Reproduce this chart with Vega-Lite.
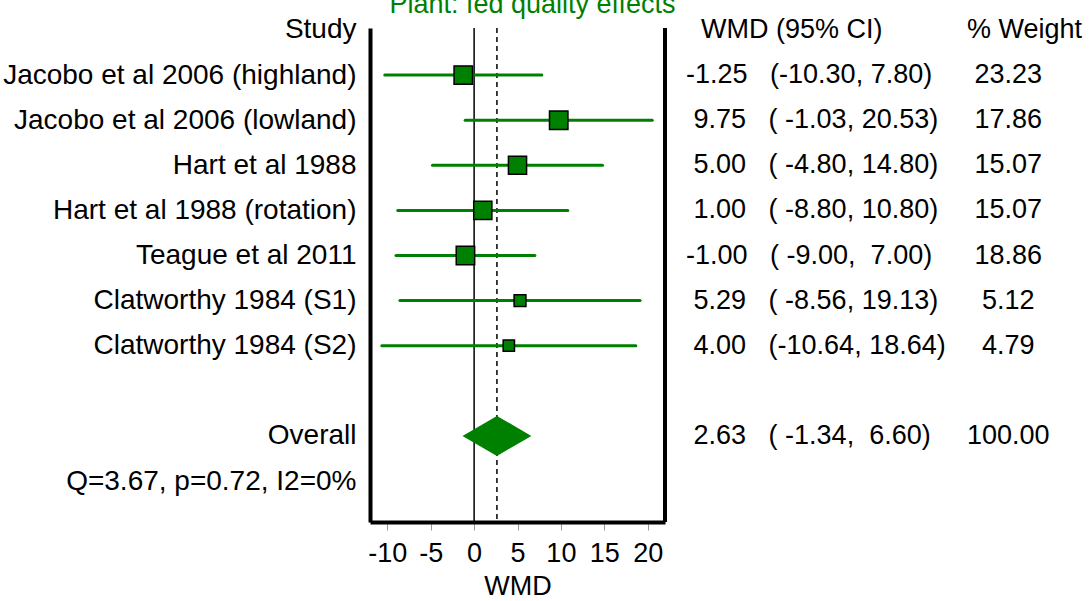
{
  "$schema": "https://vega.github.io/schema/vega-lite/v6.json",
  "width": 295,
  "height": 494,
  "autosize": {"type": "none"},
  "padding": {"left": 370, "top": 28, "right": 424, "bottom": 79},
  "background": "white",
  "config": {
    "view": {"stroke": null},
    "font": "Liberation Sans",
    "text": {"font": "Liberation Sans", "fontSize": 27, "color": "black"}
  },
  "title": {
    "text": "Plant: fed quality effects",
    "color": "#008000",
    "fontSize": 27,
    "font": "Liberation Sans",
    "fontWeight": "normal",
    "anchor": "middle",
    "baseline": "alphabetic",
    "offset": 4,
    "dy": 28,
    "dx": 15
  },
  "data": {
    "values": [
      {"study": "Study", "ci": "\u200b\u00a0\u00a0\u00a0WMD (95% CI)", "wt": "% Weight", "type": "header"},
      {"study": "Jacobo et al 2006 (highland)", "est": -1.25, "lo": -10.30, "hi": 7.80, "w": 23.23, "ci": "\u200b\u00a0-1.25\u00a0\u00a0\u00a0(-10.30,\u00a07.80)", "wt": "\u200b\u00a023.23", "type": "study"},
      {"study": "Jacobo et al 2006 (lowland)", "est": 9.75, "lo": -1.03, "hi": 20.53, "w": 17.86, "ci": "\u200b\u00a0\u00a09.75\u00a0\u00a0\u00a0(\u00a0-1.03,\u00a020.53)", "wt": "\u200b\u00a017.86", "type": "study"},
      {"study": "Hart et al 1988", "est": 5.00, "lo": -4.80, "hi": 14.80, "w": 15.07, "ci": "\u200b\u00a0\u00a05.00\u00a0\u00a0\u00a0(\u00a0-4.80,\u00a014.80)", "wt": "\u200b\u00a015.07", "type": "study"},
      {"study": "Hart et al 1988 (rotation)", "est": 1.00, "lo": -8.80, "hi": 10.80, "w": 15.07, "ci": "\u200b\u00a0\u00a01.00\u00a0\u00a0\u00a0(\u00a0-8.80,\u00a010.80)", "wt": "\u200b\u00a015.07", "type": "study"},
      {"study": "Teague et al 2011", "est": -1.00, "lo": -9.00, "hi": 7.00, "w": 18.86, "ci": "\u200b\u00a0-1.00\u00a0\u00a0\u00a0(\u00a0-9.00,\u00a0\u00a07.00)", "wt": "\u200b\u00a018.86", "type": "study"},
      {"study": "Clatworthy 1984 (S1)", "est": 5.29, "lo": -8.56, "hi": 19.13, "w": 5.12, "ci": "\u200b\u00a0\u00a05.29\u00a0\u00a0\u00a0(\u00a0-8.56,\u00a019.13)", "wt": "\u200b\u00a0\u00a05.12", "type": "study"},
      {"study": "Clatworthy 1984 (S2)", "est": 4.00, "lo": -10.64, "hi": 18.64, "w": 4.79, "ci": "\u200b\u00a0\u00a04.00\u00a0\u00a0\u00a0(-10.64,\u00a018.64)", "wt": "\u200b\u00a0\u00a04.79", "type": "study"},
      {"study": "Overall", "est": 2.63, "lo": -1.34, "hi": 6.60, "w": 100.00, "ci": "\u200b\u00a0\u00a02.63\u00a0\u00a0\u00a0(\u00a0-1.34,\u00a0\u00a06.60)", "wt": "100.00", "type": "overall"},
      {"study": "Q=3.67, p=0.72, I2=0%", "type": "het"}
    ]
  },
  "layer": [
    {
      "transform": [{"filter": "datum.type === 'overall'"}],
      "mark": {"type": "rule", "color": "black", "strokeWidth": 1.5},
      "encoding": {
        "x": {
          "datum": 0,
          "type": "quantitative",
          "scale": {"domain": [-12, 22], "nice": false, "zero": false},
          "axis": {
            "values": [-10, -5, 0, 5, 10, 15, 20],
            "labelExpr": "datum.value < 0 ? '-' + abs(datum.value) : '' + datum.value",
            "title": "WMD",
            "titleFont": "Liberation Sans",
            "titleFontSize": 27,
            "titleFontWeight": "normal",
            "titleColor": "black",
            "titlePadding": 7,
            "labelFont": "Liberation Sans",
            "labelFontSize": 27,
            "labelColor": "black",
            "labelPadding": 10,
            "labelOverlap": false,
            "labelFlush": false,
            "tickColor": "#999999",
            "tickSize": 8,
            "tickWidth": 1,
            "domainColor": "black",
            "domainWidth": 4,
            "grid": false
          }
        }
      }
    },
    {
      "transform": [{"filter": "datum.type === 'overall'"}],
      "mark": {"type": "rule", "color": "black", "strokeWidth": 4},
      "encoding": {"x": {"datum": 22, "type": "quantitative"}}
    },
    {
      "transform": [{"filter": "datum.type === 'overall'"}],
      "mark": {"type": "rule", "color": "black", "strokeWidth": 1.5, "strokeDash": [5, 4]},
      "encoding": {"x": {"field": "est", "type": "quantitative"}}
    },
    {
      "transform": [{"filter": "datum.type === 'study'"}],
      "mark": {"type": "rule", "color": "#008000", "strokeWidth": 3, "strokeCap": "round"},
      "encoding": {
        "x": {"field": "lo", "type": "quantitative"},
        "x2": {"field": "hi"},
        "y": {
          "field": "study",
          "type": "nominal",
          "scale": {
            "type": "point",
            "domain": ["Study", "Jacobo et al 2006 (highland)", "Jacobo et al 2006 (lowland)", "Hart et al 1988", "Hart et al 1988 (rotation)", "Teague et al 2011", "Clatworthy 1984 (S1)", "Clatworthy 1984 (S2)", " ", "Overall", "Q=3.67, p=0.72, I2=0%"],
            "padding": 0.4767,
            "align": 0.0465
          },
          "axis": {
            "title": null,
            "orient": "left",
            "ticks": false,
            "tickSize": 0,
            "labelPadding": 14,
            "labelFont": "Liberation Sans",
            "labelFontSize": 28,
            "labelColor": "black",
            "labelLimit": 0,
            "labelAlign": "right",
            "domainColor": "black",
            "domainWidth": 4,
            "grid": false
          }
        }
      }
    },
    {
      "transform": [{"filter": "datum.type === 'study'"}],
      "mark": {"type": "square", "filled": true, "color": "#008000", "stroke": "black", "strokeWidth": 1.5, "opacity": 1},
      "encoding": {
        "x": {"field": "est", "type": "quantitative"},
        "y": {"field": "study", "type": "nominal"},
        "size": {
          "field": "w",
          "type": "quantitative",
          "scale": {"type": "log", "domain": [4.5, 16], "range": [117, 340], "clamp": true},
          "legend": null
        }
      }
    },
    {
      "transform": [{"filter": "datum.type === 'overall'"}],
      "mark": {"type": "point", "shape": "M-1,0L0,-0.58L1,0L0,0.58Z", "filled": true, "color": "#008000", "opacity": 1, "size": 4747, "strokeWidth": 0},
      "encoding": {
        "x": {"field": "est", "type": "quantitative"},
        "y": {"field": "study", "type": "nominal"}
      }
    },
    {
      "transform": [{"filter": "datum.ci"}],
      "mark": {"type": "text", "align": "left", "baseline": "middle", "fontSize": 27},
      "encoding": {
        "x": {"datum": 23.56, "type": "quantitative"},
        "y": {"field": "study", "type": "nominal"},
        "text": {"field": "ci"}
      }
    },
    {
      "transform": [{"filter": "datum.wt"}],
      "mark": {"type": "text", "align": "left", "baseline": "middle", "fontSize": 27},
      "encoding": {
        "x": {"datum": 56.81, "type": "quantitative"},
        "y": {"field": "study", "type": "nominal"},
        "text": {"field": "wt"}
      }
    }
  ]
}
